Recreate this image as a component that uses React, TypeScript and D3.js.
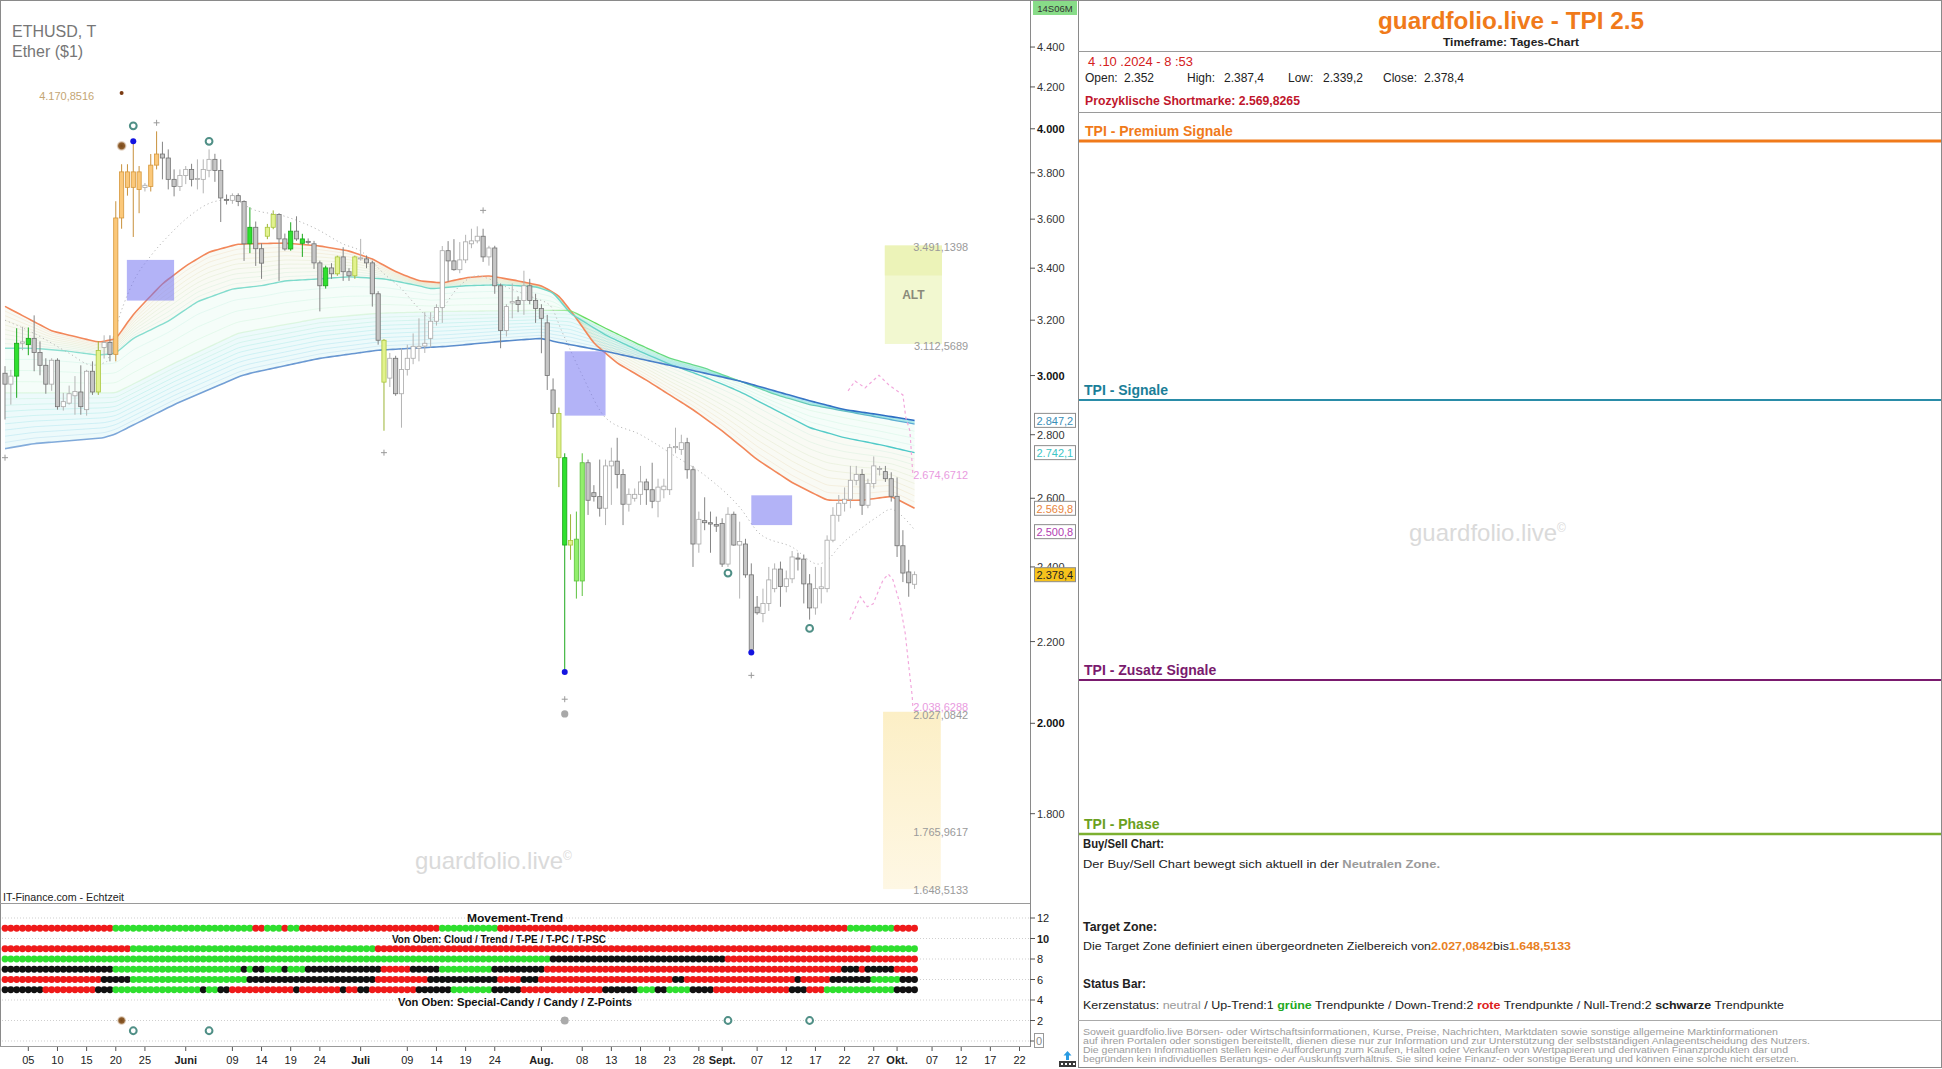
import React from "react";
import * as d3 from "d3";

const F = "'Liberation Sans', Arial, Helvetica, sans-serif";

// ---- Daily OHLC, ETHUSD, 1 May 2024 (index 0) .. 4 Oct 2024 (index 156) ----
const opens = [
  3008,2970,2998,3115,3110,3133,3082,3036,2970,3054,
  2893,2905,2930,2943,2883,3015,2943,3100,3118,3075,
  3605,3804,3736,3804,3735,3740,3834,3884,3866,3771,
  3740,3788,3815,3771,3771,3811,3860,3810,3684,3680,
  3700,3675,3498,3566,3478,3529,3566,3620,3518,3477,
  3550,3500,3508,3498,3421,3331,3401,3378,3445,3386,
  3370,3440,3437,3421,3300,3126,2991,3061,2937,3021,
  3061,3097,3105,3133,3196,3248,3470,3429,3394,3433,
  3498,3510,3529,3445,3481,3331,3162,3265,3274,3274,
  3331,3274,3244,3190,2950,2870,2726,2462,2479,2361,
  2710,2617,2605,2570,2700,2715,2673,2582,2600,2612,
  2650,2626,2591,2626,2626,2758,2752,2774,2688,2465,
  2533,2527,2522,2525,2408,2552,2462,2465,2378,2290,
  2273,2300,2340,2394,2346,2367,2425,2422,2353,2288,
  2340,2340,2476,2549,2585,2597,2655,2673,2579,2645,
  2690,2682,2660,2606,2460,2386,2352];
const highs = [
  3033,3020,3170,3175,3173,3218,3122,3061,3061,3061,
  2940,2965,2998,3036,3020,3050,3122,3144,3144,3676,
  3838,3838,3942,3830,3755,3884,3988,3940,3905,3815,
  3815,3830,3840,3860,3860,3905,3885,3860,3705,3710,
  3710,3680,3650,3590,3500,3580,3637,3625,3540,3587,
  3612,3539,3520,3510,3430,3410,3420,3450,3484,3400,
  3450,3518,3450,3430,3310,3130,3080,3070,3097,3110,
  3151,3207,3230,3230,3260,3489,3509,3517,3505,3535,
  3560,3570,3560,3490,3490,3340,3260,3340,3290,3390,
  3358,3300,3260,3220,2990,2890,2740,2552,2560,2740,
  2720,2640,2720,2720,2758,2790,2690,2630,2630,2700,
  2660,2710,2660,2660,2770,2823,2800,2790,2700,2560,
  2603,2560,2545,2540,2573,2560,2530,2480,2410,2320,
  2340,2400,2410,2415,2390,2445,2440,2435,2380,2400,
  2400,2490,2573,2610,2633,2700,2700,2690,2660,2730,
  2700,2700,2680,2664,2505,2420,2387.4];
const lows = [
  2850,2900,2923,3090,3072,3015,3001,2937,2947,2883,
  2880,2900,2866,2866,2863,2933,2933,3060,3050,3050,
  3560,3700,3526,3625,3718,3718,3815,3771,3727,3697,
  3720,3750,3740,3727,3710,3780,3760,3588,3662,3665,
  3655,3429,3460,3409,3358,3517,3558,3350,3470,3470,
  3510,3445,3495,3397,3233,3320,3358,3370,3350,3350,
  3358,3430,3400,3251,3110,2813,2960,2930,2823,3000,
  3040,3050,3080,3100,3180,3190,3347,3390,3380,3420,
  3480,3500,3425,3410,3300,3097,3140,3207,3230,3220,
  3260,3190,3079,2950,2823,2634,2123,2420,2313,2320,
  2550,2590,2545,2520,2580,2630,2520,2560,2590,2580,
  2580,2570,2543,2600,2610,2740,2735,2660,2400,2440,
  2505,2440,2500,2400,2400,2460,2313,2370,2172,2270,
  2250,2280,2330,2291,2330,2355,2390,2300,2257,2270,
  2300,2330,2470,2530,2560,2570,2640,2550,2570,2630,
  2670,2650,2590,2428,2358,2318,2339.2];
const closes = [
  2970,2998,3115,3120,3133,3082,3036,2970,3054,2893,
  2910,2937,2945,2893,3015,2943,3089,3118,3075,3605,
  3804,3736,3804,3727,3745,3834,3884,3866,3771,3740,
  3788,3815,3771,3775,3815,3860,3810,3690,3680,3700,
  3675,3498,3566,3478,3420,3566,3620,3518,3477,3550,
  3518,3518,3504,3421,3331,3401,3378,3445,3386,3370,
  3445,3441,3421,3300,3126,2977,3061,2937,3021,3061,
  3104,3104,3115,3196,3248,3470,3429,3394,3433,3506,
  3510,3529,3445,3481,3331,3162,3251,3270,3259,3331,
  3274,3244,3207,3000,2870,2726,2462,2475,2361,2710,
  2594,2605,2570,2700,2715,2673,2582,2612,2612,2650,
  2626,2591,2634,2637,2758,2762,2774,2688,2465,2537,
  2527,2523,2517,2408,2552,2462,2472,2378,2180,2275,
  2300,2364,2394,2346,2367,2428,2422,2353,2288,2340,
  2345,2476,2549,2585,2597,2655,2673,2579,2645,2700,
  2692,2660,2606,2460,2383,2356,2378.4];

// special candle colouring: o = orange, y = yellow-green, g = green, l = light green
const specialCandles: [number, string][] = [
  [2,"g"],[4,"g"],[16,"y"],[19,"o"],[20,"o"],[21,"o"],[22,"o"],[23,"o"],[25,"o"],[26,"o"],
  [42,"g"],[45,"y"],[46,"y"],[49,"g"],[51,"g"],[55,"g"],[57,"y"],[60,"y"],[65,"y"],
  [95,"y"],[96,"g"],[97,"y"],[98,"l"],[99,"l"]];

// ---- Cloud lines (day index, price) ----
const emaOrange: [number, number][] = [[0,3252],[8,3160],[16,3119],[19,3130],[22,3222],[27,3339],[31,3409],[35,3465],[40,3497],[48,3501],[54,3489],[59,3469],[63,3437],[67,3386],[71,3350],[75,3342],[79,3362],[83,3370],[88,3350],[92,3331],[95,3293],[98,3207],[101,3115],[105,3044],[110,2984],[114,2933],[118,2883],[123,2813],[129,2720],[135,2648],[141,2594],[147,2594],[152,2606],[156,2570]];
const emaTeal: [number, number][] = [[0,3097],[5,3097],[11,3086],[16,3072],[19,3079],[22,3133],[28,3196],[33,3270],[39,3319],[44,3331],[48,3350],[54,3358],[59,3366],[65,3358],[71,3331],[73,3319],[79,3331],[85,3335],[91,3327],[94,3305],[97,3225],[103,3145],[109,3085],[114,3040],[120,2995],[126,2945],[132,2883],[138,2823],[144,2790],[150,2768],[156,2742]];
const emaGreen: [number, number][] = [[0,2940],[19,2940],[29,3043],[40,3152],[54,3207],[64,3226],[76,3233],[92,3237],[97,3237],[103,3170],[109,3108],[114,3061],[120,3026],[126,2981],[132,2935],[138,2900],[156,2835]];
const emaBlue: [number, number][] = [[0,2755],[5,2771],[17,2790],[19,2803],[29,2900],[40,2995],[42,3008],[54,3061],[64,3090],[76,3104],[85,3122],[92,3133],[94,3122],[103,3086],[114,3036],[126,2981],[138,2913],[144,2883],[150,2866],[156,2847]];
const dottedMA: [number, number][] = [[0,3200],[5,3151],[11,3079],[15,3036],[17.5,3050],[18.5,3133],[22,3346],[25,3449],[28,3530],[31,3600],[36,3675],[39,3684],[42.5,3641],[48,3612],[53.5,3558],[58,3497],[61,3469],[65,3378],[68,3319],[71,3244],[73,3207],[75,3244],[77.5,3319],[81,3370],[83,3358],[85.5,3331],[88,3308],[91,3282],[93.5,3255],[95.5,3159],[99,3001],[103,2856],[109,2800],[114.5,2736],[120.5,2664],[126,2573],[129.5,2494],[135,2456],[139.5,2408],[141,2419],[143.5,2465],[146.5,2506],[149.5,2543],[152,2567],[153.5,2552],[156,2506]];
const pinkUpper: [number, number][] = [[144.6,2947],[145.8,2981],[147.5,2957],[149.9,3001],[151.6,2967],[154,2933],[154.5,2856],[155.2,2813],[155.7,2675]];
const pinkLower: [number, number][] = [[144.9,2257],[146.7,2318],[147.9,2291],[148.9,2299],[150.6,2364],[151.5,2380],[152.3,2364],[153.5,2299],[154.4,2221],[155.2,2113],[155.6,2064],[155.7,2039]];

// ---- Zones & markers ----
const purpleBoxes: [number, number, number, number][] = [[20.9,29,3433,3274],[96,103,3086,2863],[128,135,2609,2520]];
const altZone = { from: 150.9, to: 160.7, top: 3491.1398, bottom: 3112.5689 };
const targetZone = { from: 150.6, to: 160.5, top: 2027.0842, bottom: 1648.5133 };
const levelLabels: [number, string, string, number][] = [
  [3491.1398,"3.491,1398","#9a9a9a",2],[3112.5689,"3.112,5689","#9a9a9a",2],
  [2674.6712,"2.674,6712","#e99be0",1],[2038.6288,"2.038,6288","#e99be0",0],
  [2027.0842,"2.027,0842","#9a9a9a",3],[1765.9617,"1.765,9617","#9a9a9a",2],[1648.5133,"1.648,5133","#9a9a9a",1]];
const dotMarks: [number, number, string][] = [[20,4170.85,"tiny"],[20,3921,"brown"],[22,3942,"blue"],[96,2123,"blue"],[128,2172,"blue"],[96,2022,"gray"]];
const ringMarks: [number, number][] = [[22,4014],[35,3942],[124,2383],[138,2234]];
const plusMarks: [number, number][] = [[26,4028],[82,3637],[0,2726],[65,2742],[96,2057],[128,2115]];

// ---- Indicator rows (run lengths of colours) ----
const movementTrend: [string, number][] = [["r",19],["g",24],["r",2],["g",3],["r",1],["g",2],["r",24],["g",10],["r",60],["g",8],["r",4]];
const cloudRow: [string, number][] = [["r",22],["g",42],["r",85],["g",8]];
const trendRow: [string, number][] = [["g",94],["k",30],["r",33]];
const tpeRow: [string, number][] = [["k",19],["g",22],["k",1],["g",1],["k",2],["g",3],["k",1],["g",3],["k",13],["r",5],["k",5],["g",9],["k",9],["r",51],["k",3],["r",1],["k",5],["r",4]];
const tpcRow: [string, number][] = [["r",17],["k",5],["g",20],["k",22],["r",9],["k",12],["r",4],["k",3],["r",23],["k",2],["r",19],["k",1],["r",5],["k",7],["g",5],["k",3]];
const tpscRow: [string, number][] = [["k",7],["r",9],["k",3],["g",15],["k",1],["g",2],["k",2],["r",11],["k",1],["r",7],["k",1],["r",2],["k",2],["r",8],["k",6],["g",7],["k",5],["r",14],["k",6],["g",3],["k",2],["g",4],["k",4],["r",13],["k",3],["r",3],["g",12],["k",4]];
const specialCandyRow: [number, string][] = [[20,"brown"],[96,"gray"],[124,"ring"],[138,"ring"]];
const candyRow: [number, string][] = [[22,"ring"],[35,"ring"]];

// ---- Axis ticks ----
const priceTicks = [1800,2000,2200,2400,2600,2800,3000,3200,3400,3600,3800,4000,4200,4400];
const boldPriceTicks = [2000,3000,4000];
const indTicks = [0,2,4,6,8,10,12];
const xTickIdx = [4,9,14,19,24,31,39,44,49,54,61,69,74,79,84,92,99,104,109,114,119,123,129,134,139,144,149,153,159,164,169,174];
const xTickLabels = ["05","10","15","20","25","Juni","09","14","19","24","Juli","09","14","19","24","Aug.","08","13","18","23","28","Sept.","07","12","17","22","27","Okt.","07","12","17","22"];
const priceTags: [number, string, string, string][] = [
  [2847.2,"2.847,2","#3a8fb8","#ffffff"],[2742.1,"2.742,1","#3cc6c6","#ffffff"],
  [2569.8,"2.569,8","#e8843c","#ffffff"],[2500.8,"2.500,8","#b23cb2","#ffffff"],[2378.4,"2.378,4","#222222","#f6c21c"]];

const candleStyles: Record<string, { fill: string; stroke: string; wick: string }> = {
  up: { fill: "#ffffff", stroke: "#a9a9a9", wick: "#b4b4b4" },
  dn: { fill: "#c6c6c6", stroke: "#727272", wick: "#858585" },
  o: { fill: "#fbc87a", stroke: "#d6973a", wick: "#c8913c" },
  y: { fill: "#e2f28e", stroke: "#a9c63c", wick: "#9cb436" },
  g: { fill: "#2fe02f", stroke: "#19a519", wick: "#1ca81c" },
  l: { fill: "#92ef6c", stroke: "#5cc23e", wick: "#5cc23e" },
};
const dotColors: Record<string, string> = { r: "#ef1a1a", g: "#2fdf2f", k: "#111111" };

function expand(runs: [string, number][]) {
  const out: string[] = [];
  runs.forEach(([c, k]) => { for (let j = 0; j < k; j++) out.push(c); });
  return out;
}

export default function App() {
  const n = closes.length;
  const idx = d3.range(n);
  const xs = d3.scaleLinear().domain([-0.858, 175.8]).range([0, 1030]);
  const ys = d3.scaleLog().domain([1622, 4648]).range([903, 0]);
  const yi = d3.scaleLinear().domain([0, 12]).range([1041, 918]);
  const de = d3.formatLocale({ decimal: ",", thousands: ".", grouping: [3], currency: ["", ""] });
  const fmtTick = de.format(",.0f");
  const fmt1 = (v: number) => de.format(",.1f")(v).replace(/,0$/, "");

  const sampleLog = (a: [number, number][]) => {
    const s = d3.scaleLinear().domain(a.map((p) => p[0])).range(a.map((p) => Math.log(p[1])));
    return idx.map((i) => s(i));
  };
  const keys = [emaOrange, emaTeal, emaGreen, emaBlue].map(sampleLog);
  const keyColors = ["#f08a5d", "#6fd6c6", "#86df7e", "#4a86c6"];
  const keyStrokes = ["#f2875a", "url(#tealGrad)", "url(#greenGrad)", "url(#blueGrad)"];
  const keyWidths = [1.6, 1.4, 1.3, 1.6];
  const smooth = d3.line<[number, number]>().x((d) => d[0]).y((d) => d[1]).curve(d3.curveBasis);
  const mono = d3.line<[number, number]>().x((d) => xs(d[0])).y((d) => ys(d[1])).curve(d3.curveMonotoneX);
  const lin = d3.line<[number, number]>().x((d) => xs(d[0])).y((d) => ys(d[1]));
  const toPts = (logs: number[]) => logs.map((v, i) => [xs(i), ys(Math.exp(v))] as [number, number]);

  const thin: { color: string; d: string }[] = [];
  const steps = [9, 4, 9];
  for (let k = 0; k < 3; k++) {
    const A = keys[k], B = keys[k + 1];
    const ci = d3.interpolateHcl(keyColors[k], keyColors[k + 1]);
    for (let s = 1; s < steps[k]; s++) {
      const t = s / steps[k];
      thin.push({ color: ci(t), d: smooth(toPts(A.map((a, i) => a * (1 - t) + B[i] * t))) || "" });
    }
  }
  const fills = [0, 1, 2].map((k) => {
    const A = keys[k], B = keys[k + 1];
    const g = d3.area<number>().x((i) => xs(i)).y0((i) => ys(Math.exp(A[i]))).y1((i) => ys(Math.exp(B[i]))).curve(d3.curveBasis);
    return { d: g(idx) || "", color: d3.interpolateHcl(keyColors[k], keyColors[k + 1])(0.5) };
  });

  const rows = [
    { v: 11, cols: expand(movementTrend) },
    { v: 9, cols: expand(cloudRow) },
    { v: 8, cols: expand(trendRow) },
    { v: 7, cols: expand(tpeRow) },
    { v: 6, cols: expand(tpcRow) },
    { v: 5, cols: expand(tpscRow) },
  ];
  const special = new Map(specialCandles);
  const last = n - 1;
  const lblX = xs(165.2);

  const ring = (x: number, y: number, key: string) => (
    <circle key={key} cx={x} cy={y} r={3.4} fill="#ffffff" stroke="#4f8f86" strokeWidth={2} />
  );
  const plus = (x: number, y: number, key: string) => (
    <g key={key} stroke="#9a9a9a" strokeWidth={1}>
      <line x1={x - 3} x2={x + 3} y1={y} y2={y} />
      <line x1={x} x2={x} y1={y - 3} y2={y + 3} />
    </g>
  );

  return (
    <svg width={1942} height={1069} style={{ position: "fixed", left: 0, top: 0, background: "#fff", fontFamily: F }}>
      <defs>
        <clipPath id="plot"><rect x={0} y={0} width={1030} height={903} /></clipPath>
        <linearGradient id="tz" x1="0" y1="0" x2="0" y2="1">
          <stop offset="0" stopColor="#fcefc6" />
          <stop offset="1" stopColor="#fef7e4" />
        </linearGradient>
        <linearGradient id="blueGrad" gradientUnits="userSpaceOnUse" x1="0" y1="0" x2="915" y2="0">
          <stop offset="0" stopColor="#86aedc" />
          <stop offset="0.55" stopColor="#5a8ccc" />
          <stop offset="1" stopColor="#2a6cc2" />
        </linearGradient>
        <linearGradient id="tealGrad" gradientUnits="userSpaceOnUse" x1="0" y1="0" x2="915" y2="0">
          <stop offset="0" stopColor="#8fe0d2" />
          <stop offset="0.6" stopColor="#6fd6c6" />
          <stop offset="1" stopColor="#4cc8c8" />
        </linearGradient>
        <linearGradient id="greenGrad" gradientUnits="userSpaceOnUse" x1="0" y1="0" x2="915" y2="0">
          <stop offset="0" stopColor="#b6ecb0" stopOpacity="0.35" />
          <stop offset="0.58" stopColor="#b6ecb0" stopOpacity="0.35" />
          <stop offset="0.64" stopColor="#62dc58" stopOpacity="1" />
          <stop offset="0.82" stopColor="#6ad8a8" stopOpacity="1" />
          <stop offset="1" stopColor="#5aa8d8" stopOpacity="1" />
        </linearGradient>
        <radialGradient id="halo">
          <stop offset="0" stopColor="#7a4a1a" />
          <stop offset="0.55" stopColor="#8e5d2c" />
          <stop offset="1" stopColor="#e8d2bc" stopOpacity="0" />
        </radialGradient>
      </defs>
      <rect x={0} y={0} width={1942} height={1069} fill="#ffffff" />

      {/* ---------- main price chart ---------- */}
      <g clipPath="url(#plot)">
        {/* ALT zone */}
        <rect x={xs(altZone.from)} y={ys(altZone.top)} width={xs(altZone.to) - xs(altZone.from)} height={ys(altZone.bottom) - ys(altZone.top)} fill="#f2f8d0" />
        <rect x={xs(altZone.from)} y={ys(altZone.top)} width={xs(altZone.to) - xs(altZone.from)} height={30} fill="#ecf3b8" />
        <text x={(xs(altZone.from) + xs(altZone.to)) / 2} y={(ys(altZone.top) + ys(altZone.bottom)) / 2} textAnchor="middle" dominantBaseline="central" fontSize={12} fontWeight="bold" fill="#8a8a7a">ALT</text>
        {/* Target zone */}
        <rect x={xs(targetZone.from)} y={ys(targetZone.top)} width={xs(targetZone.to) - xs(targetZone.from)} height={ys(targetZone.bottom) - ys(targetZone.top)} fill="url(#tz)" />

        {/* cloud */}
        {fills.map((f, k) => <path key={"f" + k} d={f.d} fill={f.color} opacity={0.07} />)}
        {thin.map((t, k) => <path key={"t" + k} d={t.d} fill="none" stroke={t.color} strokeWidth={0.6} opacity={0.22} />)}
        {keys.map((k, j) => <path key={"k" + j} d={smooth(toPts(k)) || ""} fill="none" stroke={keyStrokes[j]} strokeWidth={keyWidths[j]} />)}

        {/* dotted average & projections */}
        <path d={mono(dottedMA) || ""} fill="none" stroke="#b9b9b9" strokeWidth={1} strokeDasharray="1.2,3" />
        <path d={lin(pinkUpper) || ""} fill="none" stroke="#f2a8dc" strokeWidth={1.2} strokeDasharray="3,3" />
        <path d={lin(pinkLower) || ""} fill="none" stroke="#f2a8dc" strokeWidth={1.2} strokeDasharray="3,3" />

        {/* purple boxes */}
        {purpleBoxes.map(([a, b, top, bot], k) => (
          <rect key={"pb" + k} x={xs(a)} y={ys(top)} width={xs(b) - xs(a)} height={ys(bot) - ys(top)} fill="#7474f0" opacity={0.55} />
        ))}

        {/* candles */}
        {idx.map((i) => {
          const o = opens[i], c = closes[i], h = highs[i], l = lows[i];
          const kind = special.get(i) || (c >= o ? "up" : "dn");
          const st = candleStyles[kind];
          const x = xs(i);
          const yt = ys(Math.max(o, c)), yb = ys(Math.min(o, c));
          return (
            <g key={"c" + i}>
              <line x1={x} x2={x} y1={ys(h)} y2={ys(l)} stroke={st.wick} strokeWidth={1} />
              <rect x={x - 2.1} y={yt} width={4.2} height={Math.max(1, yb - yt)} fill={st.fill} stroke={st.stroke} strokeWidth={0.8} />
            </g>
          );
        })}

        {/* markers */}
        {dotMarks.map(([i, p, k], j) => {
          const x = xs(i), y = ys(p);
          if (k === "tiny") return <circle key={"d" + j} cx={x} cy={y} r={2} fill="#7a3a12" />;
          if (k === "brown") return <circle key={"d" + j} cx={x} cy={y} r={5.5} fill="url(#halo)" />;
          if (k === "blue") return <circle key={"d" + j} cx={x} cy={y} r={3} fill="#1414e0" />;
          return <circle key={"d" + j} cx={x} cy={y} r={3.6} fill="#a8a8a8" />;
        })}
        {ringMarks.map(([i, p], j) => ring(xs(i), ys(p), "r" + j))}
        {plusMarks.map(([i, p], j) => plus(xs(i), ys(p), "p" + j))}

        {/* level labels */}
        <text x={xs(15.3)} y={ys(4170.85) + 3} textAnchor="end" dominantBaseline="central" fontSize={11} fill="#c4a573">4.170,8516</text>
        {levelLabels.map(([p, t, c, off], j) => (
          <text key={"ll" + j} x={lblX} y={ys(p) + off} textAnchor="end" dominantBaseline="central" fontSize={11} fill={c}>{t}</text>
        ))}

        {/* headings & watermark */}
        <text x={12} y={37} fontSize={16} fill="#767676">ETHUSD, T</text>
        <text x={12} y={57} fontSize={16} fill="#767676">Ether ($1)</text>
        <text x={415} y={869} fontSize={24} fill="#dadada">guardfolio.live<tspan dy={-9} fontSize={12}>©</tspan></text>
        <text x={3} y={901} fontSize={11} fill="#222" textLength={121} lengthAdjust="spacingAndGlyphs">IT-Finance.com - Echtzeit</text>
      </g>

      {/* ---------- indicator pane ---------- */}
      {indTicks.map((v) => (
        <line key={"ig" + v} x1={2} x2={1030} y1={yi(v)} y2={yi(v)} stroke="#cfcfcf" strokeWidth={1} strokeDasharray="1,2" />
      ))}
      <text x={515} y={yi(12)} textAnchor="middle" dominantBaseline="central" fontSize={11} fontWeight="bold" fill="#111" textLength={96} lengthAdjust="spacingAndGlyphs">Movement-Trend</text>
      <text x={499} y={yi(10)} textAnchor="middle" dominantBaseline="central" fontSize={11} fontWeight="bold" fill="#111" textLength={214} lengthAdjust="spacingAndGlyphs">Von Oben: Cloud / Trend / T-PE / T-PC / T-PSC</text>
      <text x={515} y={yi(3.8)} textAnchor="middle" dominantBaseline="central" fontSize={11} fontWeight="bold" fill="#111" textLength={234} lengthAdjust="spacingAndGlyphs">Von Oben: Special-Candy / Candy / Z-Points</text>
      {rows.map((row, r) => (
        <g key={"row" + r}>
          {row.cols.map((c, i) => <circle key={i} cx={xs(i)} cy={yi(row.v)} r={3.4} fill={dotColors[c]} />)}
        </g>
      ))}
      {specialCandyRow.map(([i, k], j) => {
        const x = xs(i), y = yi(2);
        if (k === "ring") return ring(x, y, "sc" + j);
        if (k === "brown") return <circle key={"sc" + j} cx={x} cy={y} r={5} fill="url(#halo)" />;
        return <circle key={"sc" + j} cx={x} cy={y} r={4} fill="#aaaaaa" />;
      })}
      {candyRow.map(([i], j) => ring(xs(i), yi(1), "cr" + j))}

      {/* ---------- frame lines ---------- */}
      <line x1={0} x2={1942} y1={0.5} y2={0.5} stroke="#8a8a8a" />
      <line x1={0.5} x2={0.5} y1={0} y2={1047} stroke="#8a8a8a" />
      <line x1={0} x2={1030} y1={903.5} y2={903.5} stroke="#9a9a9a" />
      <line x1={1030.5} x2={1030.5} y1={0} y2={1047} stroke="#8a8a8a" />
      <line x1={0} x2={1030} y1={1046.5} y2={1046.5} stroke="#9a9a9a" />

      {/* y axis price */}
      {priceTicks.map((v) => (
        <g key={"yt" + v}>
          <line x1={1030} x2={1035} y1={ys(v)} y2={ys(v)} stroke="#555" />
          <text x={1037} y={ys(v)} dominantBaseline="central" fontSize={11} fontWeight={boldPriceTicks.includes(v) ? "bold" : "normal"} fill={boldPriceTicks.includes(v) ? "#111" : "#333"}>{fmtTick(v)}</text>
        </g>
      ))}
      {priceTags.map(([v, t, c, bg], j) => (
        <g key={"pt" + j}>
          <rect x={1034.5} y={ys(v) - 7} width={41} height={14} fill={bg} stroke="#8d8d8d" strokeWidth={1} />
          <text x={1036.5} y={ys(v) + 0.5} dominantBaseline="central" fontSize={11} fill={c}>{t}</text>
        </g>
      ))}
      <rect x={1033} y={1} width={44} height={14} fill="#88dc88" />
      <text x={1055} y={8.5} textAnchor="middle" dominantBaseline="central" fontSize={9.5} fill="#333">14S06M</text>

      {/* y axis indicator */}
      {indTicks.map((v) => (
        <g key={"it" + v}>
          <line x1={1030} x2={1035} y1={yi(v)} y2={yi(v)} stroke="#555" />
          {v === 0 ? (
            <g>
              <rect x={1034.5} y={yi(0) - 7.5} width={9} height={14} fill="#fff" stroke="#999" />
              <text x={1039} y={yi(0)} textAnchor="middle" dominantBaseline="central" fontSize={11} fill="#888">0</text>
            </g>
          ) : (
            <text x={1037} y={yi(v)} dominantBaseline="central" fontSize={11} fontWeight={v === 10 ? "bold" : "normal"} fill="#222">{v}</text>
          )}
        </g>
      ))}

      {/* x axis */}
      {xTickIdx.map((i, j) => {
        const bold = /[A-Za-z]/.test(xTickLabels[j]);
        return (
          <g key={"xt" + j}>
            <line x1={xs(i)} x2={xs(i)} y1={1047} y2={1051} stroke="#555" />
            <text x={xs(i)} y={1064} textAnchor="middle" fontSize={11} fontWeight={bold ? "bold" : "normal"} fill="#222">{xTickLabels[j]}</text>
          </g>
        );
      })}
      {/* small icon */}
      <g>
        <rect x={1059} y={1061} width={17} height={6} fill="#3a3a3a" />
        {[0, 1, 2, 3].map((k) => <rect key={k} x={1061 + k * 4} y={1063} width={2} height={2} fill="#fff" />)}
        <path d="M1067.5,1051 L1063.5,1055.5 L1066,1055.5 L1066,1060 L1069,1060 L1069,1055.5 L1071.5,1055.5 Z" fill="#2a9be2" />
      </g>

      {/* ---------- right panel ---------- */}
      <line x1={1078.5} x2={1078.5} y1={0} y2={1068} stroke="#8a8a8a" />
      <line x1={1941.5} x2={1941.5} y1={0} y2={1068} stroke="#8a8a8a" />
      <line x1={1078} x2={1942} y1={1067.5} y2={1067.5} stroke="#8a8a8a" />
      <text x={1511} y={29} textAnchor="middle" fontSize={24} fontWeight="bold" fill="#f07a1a" textLength={266} lengthAdjust="spacingAndGlyphs">guardfolio.live - TPI 2.5</text>
      <text x={1511} y={46} textAnchor="middle" fontSize={11} fontWeight="bold" fill="#222" textLength={136} lengthAdjust="spacingAndGlyphs">Timeframe: Tages-Chart</text>
      <line x1={1078} x2={1942} y1={51.5} y2={51.5} stroke="#9a9a9a" />
      <text x={1088} y={66} fontSize={12} fill="#d42020" textLength={105} lengthAdjust="spacingAndGlyphs">4 .10 .2024 - 8 :53</text>
      <text x={1085} y={82} fontSize={12} fill="#222">Open:</text>
      <text x={1124} y={82} fontSize={12} fill="#222">{fmt1(opens[last])}</text>
      <text x={1187} y={82} fontSize={12} fill="#222">High:</text>
      <text x={1224} y={82} fontSize={12} fill="#222">{fmt1(highs[last])}</text>
      <text x={1288} y={82} fontSize={12} fill="#222">Low:</text>
      <text x={1323} y={82} fontSize={12} fill="#222">{fmt1(lows[last])}</text>
      <text x={1383} y={82} fontSize={12} fill="#222">Close:</text>
      <text x={1424} y={82} fontSize={12} fill="#222">{fmt1(closes[last])}</text>
      <text x={1085} y={105} fontSize={12} fontWeight="bold" fill="#c0162c" textLength={215} lengthAdjust="spacingAndGlyphs">Prozyklische Shortmarke:  2.569,8265</text>
      <line x1={1078} x2={1942} y1={112.5} y2={112.5} stroke="#9a9a9a" />

      <text x={1085} y={136} fontSize={14} fontWeight="bold" fill="#f07a1a">TPI - Premium Signale</text>
      <line x1={1079} x2={1941} y1={141} y2={141} stroke="#f07a1a" strokeWidth={3} />
      <text x={1084} y={395} fontSize={14} fontWeight="bold" fill="#1a7e98">TPI - Signale</text>
      <line x1={1079} x2={1941} y1={400} y2={400} stroke="#2a8ca8" strokeWidth={2} />
      <text x={1084} y={675} fontSize={14} fontWeight="bold" fill="#7a1a6e">TPI - Zusatz Signale</text>
      <line x1={1079} x2={1941} y1={680} y2={680} stroke="#7a1a6e" strokeWidth={2} />
      <text x={1084} y={829} fontSize={14} fontWeight="bold" fill="#6aa020">TPI - Phase</text>
      <line x1={1079} x2={1941} y1={834} y2={834} stroke="#7cb030" strokeWidth={2.5} />

      <text x={1409} y={541} fontSize={24} fill="#dadada">guardfolio.live<tspan dy={-9} fontSize={12}>©</tspan></text>

      <text x={1083} y={848} fontSize={12} fontWeight="bold" fill="#222" textLength={81} lengthAdjust="spacingAndGlyphs">Buy/Sell Chart:</text>
      <text x={1083} y={868} fontSize={11.5} fill="#222" textLength={357} lengthAdjust="spacingAndGlyphs">Der Buy/Sell Chart bewegt sich aktuell in der <tspan fill="#9a9a9a" fontWeight="bold">Neutralen Zone.</tspan></text>
      <text x={1083} y={931} fontSize={12} fontWeight="bold" fill="#222" textLength={74} lengthAdjust="spacingAndGlyphs">Target Zone:</text>
      <text x={1083} y={950} fontSize={11.5} fill="#222" textLength={488} lengthAdjust="spacingAndGlyphs">Die Target Zone definiert einen übergeordneten Zielbereich von<tspan fill="#e8801e" fontWeight="bold">2.027,0842</tspan>bis<tspan fill="#e8801e" fontWeight="bold">1.648,5133</tspan></text>
      <text x={1083} y={988} fontSize={12} fontWeight="bold" fill="#222" textLength={63} lengthAdjust="spacingAndGlyphs">Status Bar:</text>
      <text x={1083} y={1009} fontSize={11.5} fill="#222" textLength={701} lengthAdjust="spacingAndGlyphs">Kerzenstatus: <tspan fill="#9a9a9a">neutral</tspan>  / Up-Trend:1 <tspan fill="#22a822" fontWeight="bold">grüne</tspan> Trendpunkte  / Down-Trend:2  <tspan fill="#dd2020" fontWeight="bold">rote</tspan> Trendpunkte / Null-Trend:2 <tspan fontWeight="bold">schwarze</tspan> Trendpunkte</text>
      <line x1={1078} x2={1942} y1={1020.5} y2={1020.5} stroke="#aaaaaa" />
      <text x={1083} y={1035} fontSize={9.5} fill="#9c9c9c" textLength={695} lengthAdjust="spacingAndGlyphs">Soweit guardfolio.live Börsen- oder Wirtschaftsinformationen, Kurse, Preise, Nachrichten, Marktdaten sowie sonstige allgemeine Marktinformationen</text>
      <text x={1083} y={1044} fontSize={9.5} fill="#9c9c9c" textLength={727} lengthAdjust="spacingAndGlyphs">auf ihren Portalen oder sonstigen bereitstellt, dienen diese nur zur Information und zur Unterstützung der selbstständigen Anlageentscheidung des Nutzers.</text>
      <text x={1083} y={1053} fontSize={9.5} fill="#9c9c9c" textLength={705} lengthAdjust="spacingAndGlyphs">Die genannten Informationen stellen keine Aufforderung zum Kaufen, Halten oder Verkaufen von Wertpapieren und derivativen Finanzprodukten dar und</text>
      <text x={1083} y={1062} fontSize={9.5} fill="#9c9c9c" textLength={716} lengthAdjust="spacingAndGlyphs">begründen kein individuelles Beratungs- oder Auskunftsverhältnis. Sie sind keine Finanz- oder sonstige Beratung und können eine solche nicht ersetzen.</text>
    </svg>
  );
}
